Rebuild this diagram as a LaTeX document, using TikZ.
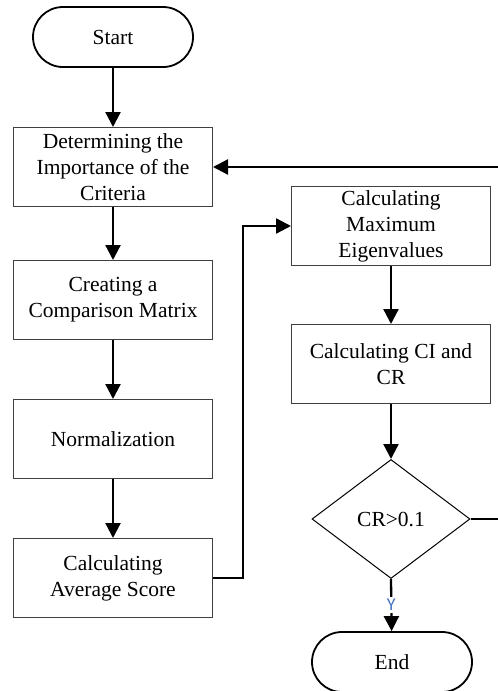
\documentclass[tikz,border=0pt]{standalone}
\usepackage{fontspec}
\setmainfont{Liberation Serif}
\newfontfamily\tagfont{Carlito}
\usetikzlibrary{arrows.meta,shapes.geometric}
\definecolor{yesblue}{RGB}{68,114,196}
\tikzset{
  boxfont/.style={font=\fontsize{21.5}{26}\selectfont},
  term/.style={draw,line width=1.8pt,rounded corners=30pt,minimum width=160pt,minimum height=60pt,boxfont},
  proc/.style={draw=black!75,line width=1pt,minimum width=199pt,minimum height=79pt,inner sep=2pt,align=center,boxfont},
  decide/.style={draw,line width=1pt,diamond,inner sep=0pt,minimum width=158pt,minimum height=119pt,boxfont},
  flow/.style={line width=2.3pt,-{Triangle[length=15pt,width=15pt]}},
  yes/.style={fill=white,text=yesblue,inner sep=2pt,font=\tagfont\fontsize{18}{20}\selectfont}
}
\begin{document}
\begin{tikzpicture}[x=1pt,y=-1pt]
\useasboundingbox (0,0) rectangle (498,691);
% left column
\node[term] (start) at (113,37) {Start};
\node[proc] (crit) at (113,167) {Determining the\\Importance of the\\Criteria};
\node[proc] (comp) at (113,300) {Creating a\\Comparison Matrix};
\node[proc] (norm) at (113,439) {Normalization};
\node[proc] (avg) at (113,578) {Calculating\\Average Score};
% right column
\node[proc] (eig) at (391,226) {Calculating\\Maximum\\Eigenvalues};
\node[proc] (cicr) at (391,364) {Calculating CI and\\CR};
\node[decide] (test) at (391,519) {CR>0.1};
\node[term] (end) at (392,662) {End};
\coordinate (back) at (515,519);
% connectors
\draw[flow] (start) -- (crit); \draw[flow] (crit) -- (comp); \draw[flow] (comp) -- (norm); \draw[flow] (norm) -- (avg);
\draw[flow] (avg.east) -- ++(30,0) |- (eig.west);
\draw[flow] (eig) -- (cicr); \draw[flow] (cicr) -- (test.north);
\draw[flow] (test.south) -- node[yes]{Y} (end);
\draw[flow] (test.east) -- (back) |- (crit.east);
\end{tikzpicture}
\end{document}
